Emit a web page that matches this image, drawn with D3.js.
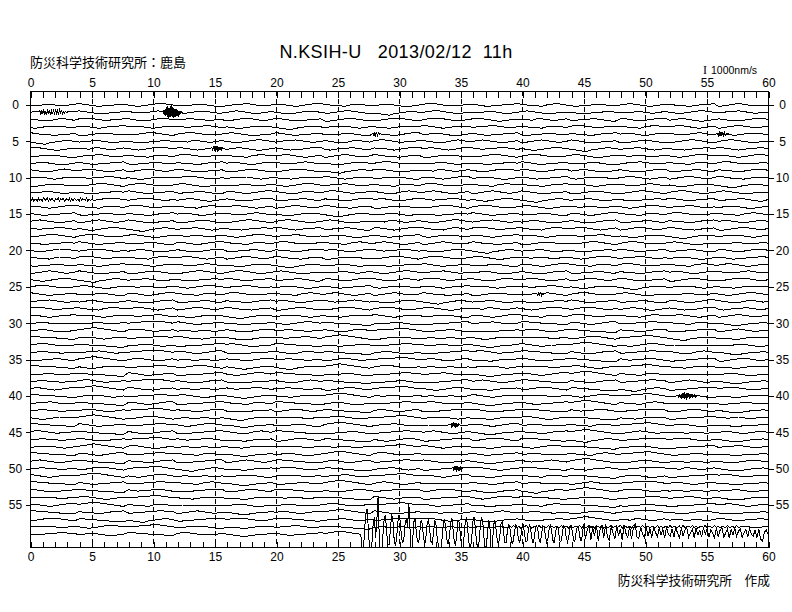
<!DOCTYPE html>
<html><head><meta charset="utf-8">
<script src="https://cdn.jsdelivr.net/npm/d3@7"></script>
<style>
body{margin:0;background:#fff}
svg{display:block}
text{font-family:"Liberation Sans",Arial,sans-serif;fill:#000}
.jp{font-family:"Noto Sans CJK JP","Noto Sans CJK SC",sans-serif}
</style>
</head><body><svg id="c" width="792" height="612"></svg>
<script>
// ---------- text ----------
const stationTitle = "N.KSIH-U   2013/02/12  11h";
const orgLabel = "防災科学技術研究所：鹿島";
const creditLabel = "防災科学技術研究所　作成";
const scaleLabel = "1000nm/s";

// ---------- axes ----------
const minuteTicks = [0,1,2,3,4,5,6,7,8,9,10,11,12,13,14,15,16,17,18,19,20,21,22,23,24,25,26,27,28,29,30,31,32,33,34,35,36,37,38,39,40,41,42,43,44,45,46,47,48,49,50,51,52,53,54,55,56,57,58,59,60];
const minuteLabels = [0,5,10,15,20,25,30,35,40,45,50,55,60];
const gridMinutes = [5,10,15,20,25,30,35,40,45,50,55];
const rowLabels = [0,5,10,15,20,25,30,35,40,45,50,55];

// ---------- base traces: one row per minute line, digit-5 = velocity in 100 nm/s, samples evenly over 0..60 min ----------
const baseTraces = [
"5546654456 7654345566 5434567765 4455665433 4566765445 6654345677 6544356654 4566543345 6776544556 6543445667 6544356765 4345566544 5676543456 6554345667 3456765445 5",
"5665434566 7654434556 6545567654 3345666544 5676543456 5433456665 4456776543 4321345665 5677654445 4556654345 6765433455 5443455665 5546654456 5434567765 4566765445 5",
"6544356654 6776544556 6544356765 5566554455 3456765445 7654434556 3345666544 4456776543 5677654445 6765433455 5546654456 4455665433 6654345677 4566543345 6543445667 5",
"4345566544 6554345667 5665434566 6545567654 5433456665 4321345665 4556654345 5443455665 7654345566 4566765445 6544356654 6776544556 6544356765 5676543456 3456765445 5",
"7654434556 3345666544 4456776543 5677654445 6765433455 7654345566 4455665433 6654345677 4566543345 6543445667 4345566544 6554345667 5665434566 6545567654 5433456665 5",
"4321345665 4556654345 5443455665 5546654456 5434567765 4566765445 6544356654 6776544556 6544356765 5676543456 3456765445 7654434556 3345666544 4456776543 5677654445 5",
"6765433455 5546654456 5434567765 6654345677 4566543345 6543445667 4345566544 6554345667 5665434566 6545567654 5433456665 4321345665 4556654345 5443455665 7654345566 5",
"4455665433 4566765445 6544356654 6776544556 6544356765 5676543456 3456765445 7654434556 3345666544 4456776543 5677654445 6765433455 5546654456 5434567765 6654345677 5",
"4566543345 6543445667 4345566544 6554345667 5665434566 6545567654 5433456665 5677654445 4556654345 5443455665 7654345566 4455665433 4566765445 6544356654 6776544556 5",
"6544356765 5676543456 3456765445 7654434556 3345666544 4456776543 4321345665 6765433455 5546654456 5434567765 6654345677 4566543345 6543445667 4345566544 6554345667 5",
"5665434566 6545567654 5433456665 5677654445 4556654345 5443455665 7654345566 4455665433 6654345677 4566543345 6543445667 4345566544 5676543456 3456765445 7654434556 5",
"3345666544 4456776543 5677654445 6765433455 5546654456 5434567765 4566765445 6544356654 6776544556 6544356765 6554345667 5665434566 6545567654 5433456665 4321345665 5",
"4556654345 5443455665 7654345566 4455665433 6654345677 6544356654 6776544556 6544356765 5676543456 3456765445 7654434556 3345666544 4456776543 5677654445 6765433455 5",
"5546654456 5434567765 4566765445 4566543345 6543445667 4345566544 6554345667 5665434566 6545567654 5433456665 4321345665 4556654345 5443455665 7654345566 4455665433 5",
"6654345677 6544356654 6776544556 6544356765 5676543456 3456765445 7654434556 3345666544 4456776543 5677654445 6765433455 5546654456 5434567765 4566765445 4566543345 5",
"6543445667 4345566544 6554345667 5665434566 6545567654 5433456665 4321345665 4556654345 5443455665 7654345566 4455665433 6654345677 6544356654 6776544556 6544356765 5",
"5676543456 3456765445 7654434556 3345666544 4456776543 5677654445 6765433455 5546654456 5434567765 4566765445 4566543345 6543445667 4345566544 6554345667 5665434566 5",
"6545567654 5433456665 4321345665 4556654345 5443455665 7654345566 4455665433 6654345677 6544356654 6776544556 6544356765 5676543456 3456765445 7654434556 3345666544 5",
"4456776543 5677654445 6765433455 5546654456 5434567765 4566765445 4566543345 6543445667 4345566544 6554345667 5665434566 6545567654 5433456665 4321345665 4556654345 5",
"5443455665 7654345566 4455665433 6654345677 6544356654 6776544556 6544356765 5676543456 3456765445 7654434556 3345666544 4456776543 5677654445 6765433455 5546654456 5",
"5434567765 4566765445 4566543345 6543445667 4345566544 6554345667 5665434566 6545567654 5433456665 4321345665 4556654345 5443455665 7654345566 4455665433 6654345677 5",
"6544356654 6776544556 6544356765 5676543456 3456765445 7654434556 3345666544 4456776543 5677654445 6765433455 5546654456 5434567765 4566765445 4566543345 6543445667 5",
"4345566544 6554345667 5665434566 6545567654 5433456665 4321345665 4556654345 5443455665 7654345566 4455665433 6654345677 6544356654 6776544556 6544356765 5676543456 5",
"3456765445 7654434556 3345666544 4456776543 5677654445 6765433455 5546654456 5434567765 4566765445 4566543345 6543445667 4345566544 6554345667 5665434566 6545567654 5",
"5433456665 4321345665 4556654345 5443455665 7654345566 4455665433 6654345677 6544356654 6776544556 6544356765 5676543456 3456765445 7654434556 3345666544 4456776543 5",
"5677654445 6765433455 5546654456 5434567765 4566765445 4566543345 6543445667 4345566544 6554345667 5665434566 6545567654 5433456665 4321345665 4556654345 5443455665 5",
"7654345566 4455665433 6654345677 6544356654 6776544556 6544356765 5676543456 3456765445 7654434556 3345666544 4456776543 5677654445 6765433455 5546654456 5434567765 5",
"4566765445 4566543345 6543445667 4345566544 6554345667 5665434566 6545567654 5433456665 4321345665 4556654345 5443455665 7654345566 4455665433 6654345677 6544356654 5",
"6776544556 6544356765 5676543456 3456765445 7654434556 3345666544 4456776543 5677654445 6765433455 5546654456 5434567765 4566765445 4566543345 6543445667 4345566544 5",
"6554345667 5665434566 6545567654 5433456665 4321345665 4556654345 5443455665 7654345566 4455665433 6654345677 6544356654 6776544556 6544356765 5676543456 3456765445 5",
"5566554455 5546654456 5667788765 7654345566 4443345556 5434567765 6655443322 4455665433 3344556677 4566765445 7766554433 6654345677 4455667766 6544356654 5432234556 5",
"4566543345 6789876543 6776544556 4554455445 6543445667 5566554455 6544356765 5667788765 4345566544 4443345556 5676543456 6655443322 6554345667 3344556677 3456765445 5",
"7766554433 5665434566 4455667766 7654434556 5432234556 6545567654 6789876543 3345666544 4554455445 5433456665 5566554455 4456776543 5667788765 4321345665 4443345556 5",
"5677654445 6655443322 4556654345 3344556677 6765433455 7766554433 5443455665 4455667766 5546654456 5432234556 7654345566 6789876543 5434567765 4554455445 4455665433 5",
"5566554455 4566765445 5667788765 6654345677 4443345556 6544356654 6655443322 4566543345 3344556677 6776544556 7766554433 6543445667 4455667766 6544356765 5432234556 5",
"4345566544 6789876543 5676543456 4554455445 6554345667 5566554455 3456765445 5667788765 5665434566 4443345556 7654434556 6655443322 6545567654 3344556677 3345666544 5",
"7766554433 5433456665 4455667766 4456776543 5432234556 4321345665 6789876543 5677654445 4554455445 4556654345 5566554455 6765433455 5667788765 5443455665 4443345556 5",
"5546654456 6655443322 7654345566 3344556677 5434567765 7766554433 4455665433 4455667766 4566765445 5432234556 6654345677 6789876543 6544356654 4554455445 4566543345 5",
"5566554455 6776544556 5667788765 6543445667 4443345556 6544356765 6655443322 4345566544 3344556677 5676543456 7766554433 6554345667 4455667766 3456765445 5432234556 5",
"5665434566 6789876543 7654434556 4554455445 6545567654 5566554455 3345666544 5667788765 5433456665 4443345556 4456776543 6655443322 4321345665 3344556677 5677654445 5",
"7766554433 4556654345 4455667766 6765433455 5432234556 5443455665 6789876543 5546654456 4554455445 7654345566 5566554455 5434567765 5667788765 4455665433 4443345556 5",
"4566765445 6655443322 6654345677 3344556677 6544356654 7766554433 4566543345 4455667766 6776544556 5432234556 6543445667 6789876543 6544356765 4554455445 4345566544 5",
"5566554455 5676543456 5667788765 6554345667 4443345556 3456765445 6655443322 5665434566 3344556677 7654434556 7766554433 6545567654 4455667766 3345666544 5432234556 5",
"5433456665 6789876543 4456776543 4554455445 4321345665 5566554455 5677654445 5667788765 4556654345 4443345556 6765433455 6655443322 5443455665 3344556677 5546654456 5",
"7766554433 7654345566 4455667766 5434567765 5432234556 4455665433 6789876543 4566765445 4554455445 6654345677 5566554455 6544356654 5667788765 4566543345 4443345556 5",
"6776544556 6655443322 6543445667 3344556677 6544356765 7766554433 4345566544 4455667766 5676543456 5432234556 6554345667 6789876543 3456765445 4554455445 5665434566 5",
"5566554455 7654434556 5667788765 6545567654 4443345556 3345666544 6655443322 5433456665 3344556677 4456776543 7766554433 4321345665 4455667766 5677654445 5432234556 5",
"4556654345 6789876543 6765433455 4554455445 5443455665 5566554455 5546654456 5667788765 7654345566 4443345556 5434567765 6655443322 4455665433 3344556677 4566765445 5",
"7766554433 6654345677 4455667766 6544356654 5432234556 4566543345 6789876543 6776544556 4554455445 6543445667 5566554455 6544356765 5667788765 4345566544 4443345556 5",
"5676543456 6655443322 6554345667 3344556677 3456765445 7766554433 5665434566 4455667766 7654434556 5432234556 6545567654 6789876543 3345666544 4554455445 5433456665 5",
"5566554455 4456776543 5667788765 4321345665 4443345556 5677654445 6655443322 4556654345 3344556677 6765433455 7766554433 5443455665 4455667766 5546654456 5432234556 5",
"7654345566 6789876543 5434567765 4554455445 4455665433 5566554455 4566765445 5667788765 6654345677 4443345556 6544356654 6655443322 4566543345 3344556677 6776544556 5",
"7766554433 6543445667 4455667766 6544356765 5432234556 4345566544 6789876543 5676543456 4554455445 6554345667 5566554455 3456765445 5667788765 5665434566 4443345556 5",
"7654434556 6655443322 6545567654 3344556677 3345666544 7766554433 5433456665 4455667766 4456776543 5432234556 4321345665 6789876543 5677654445 4554455445 4556654345 5",
"5566554455 6765433455 5667788765 5443455665 4443345556 5546654456 6655443322 7654345566 3344556677 5434567765 7766554433 4455665433 4455667766 4566765445 5432234556 5",
"6654345677 6789876543 6544356654 4554455445 4566543345 5566554455 6776544556 5667788765 6543445667 4443345556 6544356765 6655443322 4345566544 3344556677 5676543456 5",
"7766554433 6554345667 4455667766 3456765445 5432234556 5665434566 6789876543 7654434556 4554455445 6545567654 5566554455 3345666544 5667788765 5433456665 4443345556 5",
"4456776543 6655443322 4321345665 3344556677 5677654445 7766554433 4556654345 4455667766 6765433455 5432234556 5443455665 6789876543 5546654456 4554455445 7654345566 5",
"5566554455 5434567765 5667788765 4455665433 4443345556 4566765445 6655443322 4554455445 4554455445 4554455445 4554455445 4554455445 4554455445 4554455445 4554455445 5",
"4455667766 4566543345 7766554433 6776544556 5432234556 6543445667 6789876543 6544356765 4554455445 4345566544 5566554455 5676543456 5667788765 6554345667 4443345556 5"
];

// ---------- local bursts (row, start minute, sample step in minutes, velocity in 100 nm/s) ----------
const burstRow   = [1, 1, 6, 13, 4, 4, 26, 40, 44, 50, 58, 59, 59];
const burstStart = [0.8, 10.8, 14.8, 0.0, 27.9, 55.9, 41.2, 52.7, 34.2, 34.4, 39.0, 26.9, 45.0];
const burstStep  = [0.08, 0.05, 0.06, 0.1, 0.07, 0.07, 0.08, 0.06, 0.06, 0.06, 0.15, 0.1, 0.15];
const burstValues = [
 [2,-3,3,-2,4,-4,1,-3,4,-2,3,-4,2,-1,3,-3,4,-2,2,-3,3,-1,2,-2,1,-1,1,0],
 [1,-2,3,-4,5,-5,7,-6,8,-8,6,-7,9,-6,10,-7,7,-8,6,-6,5,-7,4,-5,3,-6,2,-3,2,-2,1,0],
 [1,-2,3,-3,4,-3,4,-4,3,-3,2,-2,2,-1,1,0],
 [1,-1,2,-2,1,0,-2,2,-1,1,-2,2,0,-1,2,-2,1,-1,2,-1,-2,1,0,2,-2,1,-1,2,-2,0,1,-1,2,-2,1,-2,2,0,-1,1,-2,2,-1,1,0,-1,2,-2,1,-1,0],
 [1,-2,2,-2,3,-2,2,-1,1,0],
 [1,-2,2,-3,3,-2,3,-2,2,-2,1,-1,1,0],
 [1,-2,2,-1,2,-2,1,0],
 [1,-2,2,-3,3,-4,4,-3,5,-4,3,-5,4,-3,4,-4,3,-3,2,-3,2,-2,3,-2,1,-1,1,0],
 [1,-2,3,-3,4,-3,3,-4,2,-2,2,-1,1,0],
 [1,-3,3,-2,4,-4,3,-3,2,-3,2,-1,1,0],
 [1,-1,2,0,-1,1,-2,1,0,2,-1,1,-2,0,1,-1,2,-2,1,0,-1,2,-1,1,-2,1,0,-1,2,-1,0,1,-2,2,-1,0,1,-1,2,-2,
  1,-1,0,2,-1,1,-2,1,0,-1,2,-2,1,-1,0,2,-1,1,-1,0,2,-2,1,0,-1,1,-2,2,-1,0,1,-1,2,-1,0,1,-2,1,0,-1,
  2,-1,1,-2,0,1,-1,2,-2,1,0,-1,1,-2,2,-1,0,1,-1,2,-1,1,-2,0,1,-1,2,-2,1,0,-1,2,-1,1,-2,1,0,-1,2,-1,
  0,1,-2,2,-1,0,1],
 [0,-30,-25,5,28,34,10,-18,-30,-12,14,24,-5,20,52,-8,-30,-26,0,22,
  26,2,-15,-14,6,27,20,-6,-16,-8,16,26,18,-4,-12,-6,14,22,10,43,
  5,-30,-12,16,22,4,-10,-12,4,19,14,-6,-14,-2,16,20,4,-10,-13,0,
  18,15,-5,-15,-20,-30,-6,14,20,8,-8,-14,-3,16,22,6,-11,-15,0,19,
  16,-4,-18,-20,-2,19,23,3,-14,-22,-8,16,24,10,-10,-20,-12,8,22,19,
  -4,-18,-16,2,19,7,-30,-12,13,19,6,-10,-14,-2,15,17,3,-11,-12,2,
  13,11,-4,-13,-9,5,13,9,-6,-12,-4,10,12,2,-10,-11,3,12,8,-6,
  -12,-5,8,12,4,-9,-11,1,11,10,-3,-11,-7,6,12,6,-8,-12,-2,10,
  11,0,-10,-9,4,11,8,-5,-11,-4,8,11,3,-9,-10,2,10,8,-4,-9,-3],
 [14,-6,5,12,-8,9,-3,13,-9,6,11,-5,14,-4,-8,10,2,-7,12,-3,7,-8,13,1,-5,11,-7,8,14,-4,-6,10,0,-5,
  10,-3,7,-5,9,3,-4,8,-1,6,-5,10,0,-3,7,-4,9,1,-5,8,-3,6,9,-4,2,7,-5,8,-1,5,-4,9,0,
  7,-4,6,1,-5,8,-3,5,9,-4,1,7,-5,6,-1,8,-3,4,7,-5,2,6,-4,8,0,-3,6,-5,7,-7,-10,2,6,0]
];

// ---------- layout ----------
const plotLeft = 30, plotRight = 768, plotTop = 91, plotBottom = 547;

const svg = d3.select("#c");
const x = d3.scaleLinear().domain([0, 60]).range([plotLeft, plotRight]);
const y = d3.scaleLinear().domain([0, 55]).range([105, 505]);
// 1000 nm/s (10 units) spans one trace spacing
const amp = d3.scaleLinear().domain([0, 10]).range([0, y(1) - y(0)]);

svg.append("defs").append("clipPath").attr("id", "plotClip")
  .append("rect").attr("x", plotLeft).attr("y", plotTop)
  .attr("width", plotRight - plotLeft).attr("height", plotBottom - plotTop);

// dashed minute grid
svg.append("g").selectAll("line").data(gridMinutes).join("line")
  .attr("x1", d => Math.round(x(d)) + 0.5).attr("x2", d => Math.round(x(d)) + 0.5)
  .attr("y1", plotTop).attr("y2", plotBottom)
  .attr("stroke", "#000").attr("stroke-width", 1).attr("stroke-dasharray", "5,3")
  .attr("shape-rendering", "crispEdges");

function tracePoints(r) {
  const digits = baseTraces[r].replace(/\s/g, "").split("").map(Number);
  const n = digits.length;
  const segs = [];
  burstRow.forEach((br, i) => { if (br === r) segs.push(i); });
  const inBurst = t => segs.some(i => t >= burstStart[i] && t <= burstStart[i] + burstStep[i] * (burstValues[i].length - 1));
  const pts = [];
  digits.forEach((d, i) => { const t = i * 60 / (n - 1); if (!inBurst(t)) pts.push({ t, v: d - 5 }); });
  segs.forEach(i => burstValues[i].forEach((v, j) => pts.push({ t: burstStart[i] + j * burstStep[i], v })));
  pts.sort((a, b) => a.t - b.t);
  return pts;
}

const traceG = svg.append("g").attr("clip-path", "url(#plotClip)");
baseTraces.forEach((s, r) => {
  const line = d3.line().x(d => x(d.t)).y(d => y(r) - amp(d.v));
  traceG.append("path").datum(tracePoints(r))
    .attr("d", line).attr("fill", "none").attr("stroke", "#000")
    .attr("stroke-width", 1).attr("shape-rendering", "crispEdges");
});

// frame
svg.append("rect").attr("x", plotLeft + 0.5).attr("y", plotTop + 0.5)
  .attr("width", plotRight - plotLeft).attr("height", plotBottom - plotTop)
  .attr("fill", "none").attr("stroke", "#000").attr("stroke-width", 1)
  .attr("shape-rendering", "crispEdges");

// top & bottom minute axes
const fmt = d => (minuteLabels.includes(d) ? String(d) : "");
const topAxis = svg.append("g").attr("transform", `translate(0.5,${plotTop + 0.5})`)
  .call(d3.axisTop(x).tickValues(minuteTicks).tickSize(-6).tickPadding(5).tickFormat(fmt));
const botAxis = svg.append("g").attr("transform", `translate(0.5,${plotBottom + 0.5})`)
  .call(d3.axisBottom(x).tickValues(minuteTicks).tickSize(-6).tickPadding(5).tickFormat(fmt));
[topAxis, botAxis].forEach(g => {
  g.select(".domain").remove();
  g.selectAll("text").attr("font-size", 12).attr("font-family", "Liberation Sans, Arial, sans-serif").attr("fill", "#000");
  g.selectAll("line").attr("stroke", "#000").attr("shape-rendering", "crispEdges");
});

// left & right row axes
const leftAxis = svg.append("g").attr("transform", `translate(${plotLeft + 0.5},0)`)
  .call(d3.axisLeft(y).tickValues(rowLabels).tickSize(5).tickPadding(3));
const rightAxis = svg.append("g").attr("transform", `translate(${plotRight + 0.5},0)`)
  .call(d3.axisRight(y).tickValues(rowLabels).tickSize(5).tickPadding(3));
[leftAxis, rightAxis].forEach(g => {
  g.select(".domain").remove();
  g.selectAll("line").attr("stroke", "#000").attr("shape-rendering", "crispEdges");
  g.selectAll("text").attr("font-size", 12).attr("font-family", "Liberation Sans, Arial, sans-serif")
    .attr("fill", "#000").attr("text-anchor", "middle");
});
leftAxis.selectAll("text").attr("x", 15 - plotLeft);
rightAxis.selectAll("text").attr("x", 782 - plotRight);

// titles
svg.append("text").attr("x", 396).attr("y", 58).attr("text-anchor", "middle")
  .attr("font-size", 18).attr("letter-spacing", 0.4).style("white-space", "pre")
  .text(stationTitle);
svg.append("text").attr("class", "jp").attr("x", 30).attr("y", 67)
  .attr("font-size", 13).text(orgLabel);
const sc = svg.append("text").attr("x", 703).attr("y", 74).attr("font-size", 10.5);
sc.append("tspan").attr("font-family", "Liberation Serif, serif").attr("font-size", 12).text("I");
sc.append("tspan").attr("dx", 4).text(scaleLabel);
svg.append("text").attr("class", "jp").attr("x", 770).attr("y", 585)
  .attr("text-anchor", "end").attr("font-size", 12.7).text(creditLabel);
</script>
</body></html>
